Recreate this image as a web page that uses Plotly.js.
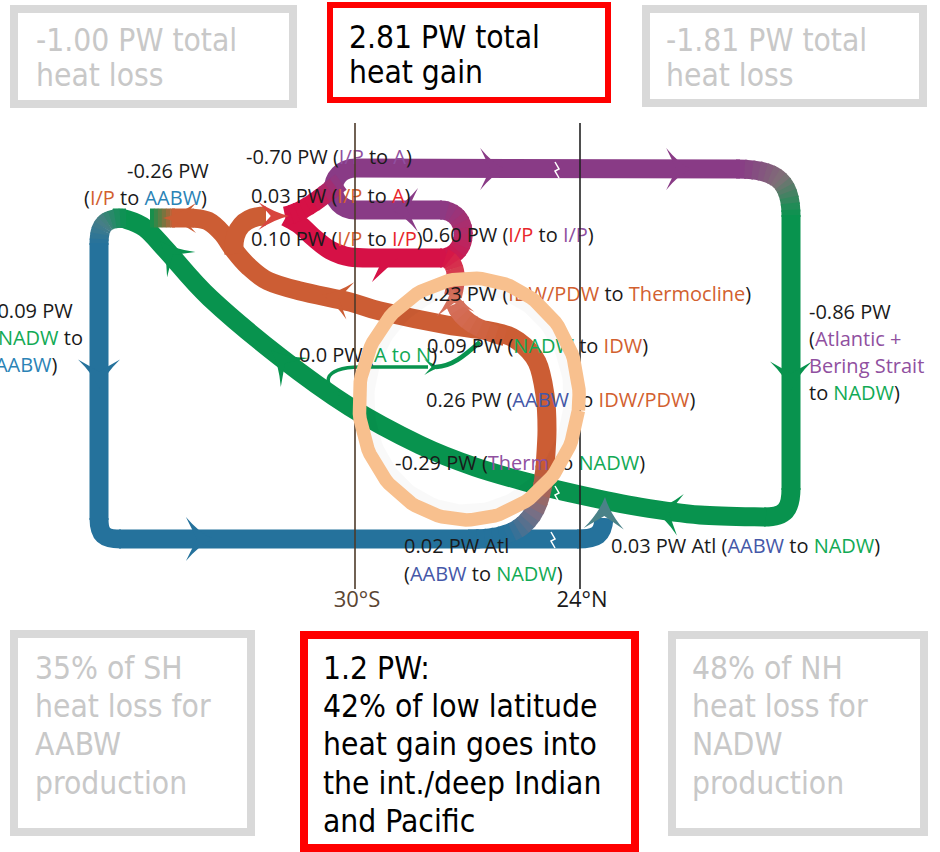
<!DOCTYPE html>
<html><head><meta charset="utf-8">
<script src="https://cdn.plot.ly/plotly-3.0.1.min.js"></script>
<style>html,body{margin:0;padding:0;background:#fff;overflow:hidden}#chart{width:940px;height:852px}</style>
</head><body><div id="chart"></div>
<script>
// ---------------- data ----------------
const topBoxLines = [["-1.00 PW total","heat loss"],["2.81 PW total","heat gain"],["-1.81 PW total","heat loss"]];
const bottomBoxLines = [["35% of SH","heat loss for","AABW","production"],
  ["1.2 PW:","42% of low latitude","heat gain goes into","the int./deep Indian","and Pacific"],
  ["48% of NH","heat loss for","NADW","production"]];
const latitudeLabels = ["30°S","24°N"];
const flowValues = ["-0.26","-0.70","0.03","0.10","0.60","0.23","-0.86","-0.09","0.0","0.09","0.26","-0.29","0.02","0.03"];

// ---------------- colours ----------------
const GREEN='#08934e', PURPLE='#893b86', RED='#d61146', ORANGE='#cc5d34', BLUE='#25729c', SALMON='#d6705c', PEACH='#f8c08e';
const tO='#d2602f', tP='#9050a0', tR='#e8262b', tG='#12aa55', tB='#2b83b6', tI='#4558a8';
function sp(s,c){return '<span style="color:'+c+'">'+s+'</span>';}

// ---------------- labels ----------------
const v = flowValues;
const labelLines = [
  v[0]+' PW',
  '('+sp('I/P',tO)+' to '+sp('AABW',tB)+')',
  v[1]+' PW ('+sp('I/P',tP)+' to '+sp('A',tP)+')',
  v[2]+' PW ('+sp('I/P',tO)+' to '+sp('A',tR)+')',
  v[3]+' PW ('+sp('I/P',tO)+' to '+sp('I/P',tR)+')',
  v[4]+' PW ('+sp('I/P',tR)+' to '+sp('I/P',tP)+')',
  v[5]+' PW ('+sp('IDW/PDW',tO)+' to '+sp('Thermocline',tO)+')',
  v[6]+' PW',
  '('+sp('Atlantic +',tP),
  sp('Bering Strait',tP),
  'to '+sp('NADW',tG)+')',
  v[7]+' PW',
  '('+sp('NADW',tG)+' to',
  '('+sp('AABW',tB)+')',
  v[8]+' PW ('+sp('A to N',tG)+')',
  v[9]+' PW ('+sp('NADW',tG)+' to '+sp('IDW',tO)+')',
  v[10]+' PW ('+sp('AABW',tI)+' to '+sp('IDW/PDW',tO)+')',
  v[11]+' PW ('+sp('Therm',tP)+' to '+sp('NADW',tG)+')',
  v[12]+' PW Atl',
  '('+sp('AABW',tI)+' to '+sp('NADW',tG)+')',
  v[13]+' PW Atl ('+sp('AABW',tI)+' to '+sp('NADW',tG)+')'
];
const labelX = [127,84,246,251,251,422,422,809,809,809,809,-9,-8,-11,299,427,426,395,404,404,611];
const labelY = [173,200,159,198,241,237,296,314,341,368,395,313,340,367,357,348,402,465,548,576,548];

// ---------------- helpers ----------------
const S = [];
const W = 19;
function f(p){return p[0].toFixed(1)+' '+p[1].toFixed(1);}
function stroke(path,color,width){S.push({type:'path',path:path,line:{color:color,width:width||W},fillcolor:'rgba(0,0,0,0)',layer:'below'});}
function lerp(a,b,t){return [a[0]+(b[0]-a[0])*t,a[1]+(b[1]-a[1])*t];}
function deCast(P,t){const a=lerp(P[0],P[1],t),b=lerp(P[1],P[2],t),c=lerp(P[2],P[3],t),d=lerp(a,b,t),e=lerp(b,c,t),g=lerp(d,e,t);return [[P[0],a,d,g],[g,e,c,P[3]]];}
function sub(P,t0,t1){const left=deCast(P,t1)[0];if(t0<=0)return left;return deCast(left,t0/t1)[1];}
function cubicPath(P){return 'M '+f(P[0])+' C '+f(P[1])+' '+f(P[2])+' '+f(P[3]);}
function hx(h){return [parseInt(h.slice(1,3),16),parseInt(h.slice(3,5),16),parseInt(h.slice(5,7),16)];}
function mix(stops,t){const n=stops.length-1;const s=Math.min(n-1e-9,Math.max(0,t*n));const i=Math.floor(s),u=s-i;const a=hx(stops[i]),b=hx(stops[i+1]);return 'rgb('+a.map((x,k)=>Math.round(x+(b[k]-x)*u)).join(',')+')';}
function gcubic(P,stops,width,n){n=n||12;for(let i=0;i<n;i++){const t0=i/n,t1=Math.min(1,(i+1)/n+0.02);stroke(cubicPath(sub(P,t0,t1)),mix(stops,(i+0.5)/n),width);}}
function smooth(pts){let d='M '+f(pts[0]);for(let i=0;i<pts.length-1;i++){const p0=pts[i-1]||pts[i],p1=pts[i],p2=pts[i+1],p3=pts[i+2]||p2;
  const c1=[p1[0]+(p2[0]-p0[0])/6,p1[1]+(p2[1]-p0[1])/6],c2=[p2[0]-(p3[0]-p1[0])/6,p2[1]-(p3[1]-p1[1])/6];d+=' C '+f(c1)+' '+f(c2)+' '+f(p2);}return d;}
function seg(a,b){return 'M '+f(a)+' L '+f(b);}
function arrow(tip,back,hw,color){const dx=tip[0]-back[0],dy=tip[1]-back[1],L=Math.hypot(dx,dy),ux=dx/L,uy=dy/L,nx=-uy,ny=ux;
  const P=(a,b)=>[back[0]+ux*a+nx*b,back[1]+uy*a+ny*b];
  const bl=P(-0.18*L,hw),br=P(-0.18*L,-hw),notch=P(0.3*L,0),cl=P(0.42*L,0.26*hw),cr=P(0.42*L,-0.26*hw);
  S.push({type:'path',path:'M '+f(tip)+' Q '+f(cl)+' '+f(bl)+' L '+f(notch)+' L '+f(br)+' Q '+f(cr)+' '+f(tip)+' Z',fillcolor:color,line:{width:0},layer:'below'});}
function poly(pts,color){S.push({type:'path',path:'M '+pts.map(f).join(' L ')+' Z',fillcolor:color,line:{width:0},layer:'below'});}

// ---------------- boxes ----------------
const boxes = [
  {x0:14,y0:9,x1:293,y1:104,c:'#d9d9d9',w:8},
  {x0:330,y0:5,x1:608,y1:100,c:'#ff0000',w:6},
  {x0:646,y0:9,x1:923,y1:103,c:'#d9d9d9',w:8},
  {x0:14,y0:634,x1:251,y1:832,c:'#d9d9d9',w:8},
  {x0:304,y0:635,x1:635,y1:848,c:'#ff0000',w:8},
  {x0:672,y0:635,x1:924,y1:832,c:'#d9d9d9',w:8}
];
boxes.forEach(b=>S.push({type:'rect',x0:b.x0,x1:b.x1,y0:b.y0,y1:b.y1,line:{color:b.c,width:b.w},fillcolor:'rgba(0,0,0,0)',layer:'below'}));

// ---------------- flows ----------------
gcubic([[736,169],[778,169],[791,182],[791,217]],[PURPLE,'#7f7077',GREEN],W,14);
stroke(seg([791,215],[791,490]),GREEN);
stroke(cubicPath([[791,488],[791,510],[785,517],[764,517]]),GREEN);
stroke(smooth([[766,517],[700,515],[640,507],[580,495],[530,483],[475,467],[420,445],[350,407],[280,357],[210,298],[168,252],[145,228],[125,219],[112,218]]),GREEN);
gcubic([[126,218],[105,218],[99,224],[99,245]],[GREEN,'#4a7f85',BLUE],W,10);
stroke(seg([99,243],[99,520]),BLUE);
stroke(cubicPath([[99,518],[99,535],[104,539],[121,539]]),BLUE);
stroke(seg([119,539],[579,539]),BLUE);
stroke(cubicPath([[577,539],[597,539],[603,535],[604,518]]),BLUE);
stroke('M 348 398 C 318 386 322 367 360 367 L 428 367',GREEN,3.5);
stroke(cubicPath([[436,367],[452,366],[463,357],[480,342]]),GREEN,4.5);
stroke(seg([354,168],[740,169]),PURPLE);
stroke(cubicPath([[356,210],[326,210],[326,168],[356,168]]),PURPLE);
stroke(seg([354,210],[442,210]),PURPLE);
stroke(smooth([[286,217],[300,225],[313,237],[330,250],[350,257],[380,258],[442,258]]),RED);
gcubic([[440,258],[471,258],[471,210],[440,210]],[RED,'#b42a66',PURPLE],W,12);
gcubic([[445,258],[458,263],[457,280],[453,296]],[RED,SALMON],18,8);
gcubic([[285,216],[305,212],[322,196],[341,182]],[RED,RED,PURPLE],W,10);
gcubic([[468,539],[515,539],[541,527],[545,466]],[BLUE,BLUE,'#7a6f84',ORANGE],W,16);
stroke(smooth([[545,468],[547,430],[545,395],[537,362],[518,341],[495,332],[447,325],[380,311],[350,302],[300,291],[268,281],[248,266],[234,250],[222,233],[208,221],[192,218]]),ORANGE);
gcubic([[150,218],[158,218],[165,218],[175,218]],[GREEN,ORANGE],W,6);
stroke(seg([172,218],[194,218]),ORANGE);
stroke(cubicPath([[234,254],[232,228],[245,216],[266,216]]),ORANGE);
gcubic([[505,337],[481,331],[461,321],[455,304]],[ORANGE,SALMON],18,8);

arrow([99,389],[99,364],21,BLUE);
arrow([213,539],[190,539],22,BLUE);
arrow([605,497],[604,524],20,'#4a8288');
arrow([505,169],[484,169],21,PURPLE);
arrow([691,169],[670,169],21,PURPLE);
arrow([791,391],[791,366],21,GREEN);
arrow([652,510],[676,514],21,GREEN);
arrow([271,350],[291,369],20,GREEN);
arrow([160,241],[178,261],19,GREEN);
arrow([163,218],[191,218],15,ORANGE);
arrow([289,216],[263,216],14,'#d8453e');
arrow([322,295],[346,300],19,ORANGE);
arrow([452,287],[455,310],19,'#d5715c');
arrow([392,210],[414,210],22,PURPLE);
arrow([442,367],[427,367],8,GREEN);
poly([[398,258],[372,282],[381,263],[379,258]],RED);

[[557,170],[557,494],[553,540]].forEach(p=>stroke('M '+(p[0]-2)+' '+(p[1]-8)+' L '+(p[0]+2)+' '+(p[1]-1)+' L '+(p[0]-2)+' '+(p[1]+1)+' L '+(p[0]+2)+' '+(p[1]+8),'#ffffff',1.5));

// ---------------- annotations (box text) ----------------
const A = [];
const boxFont = 'DejaVu Sans Condensed, Liberation Sans Narrow, sans-serif';
const topX=[34,347,664], topY=[[40,75],[37,72],[40,75]], topC=['#c8c8c8','#000000','#c8c8c8'];
topBoxLines.forEach((lines,i)=>lines.forEach((t,j)=>A.push({x:topX[i],y:topY[i][j],xref:'x',yref:'y',text:t,showarrow:false,xanchor:'left',yanchor:'middle',font:{family:boxFont,size:31.5,color:topC[i]}})));
const botX=[33,321,690], botY0=668, botDy=38.2, botC=['#c8c8c8','#000000','#c8c8c8'];
bottomBoxLines.forEach((lines,i)=>lines.forEach((t,j)=>A.push({x:botX[i],y:botY0+j*botDy,xref:'x',yref:'y',text:t,showarrow:false,xanchor:'left',yanchor:'middle',font:{family:boxFont,size:31.5,color:botC[i]}})));

// ---------------- traces ----------------
const traces = [];
traces.push({type:'scatter',mode:'text',x:labelX,y:labelY,text:labelLines,textposition:'middle right',
  textfont:{family:'Open Sans, sans-serif',size:20,color:'#1a1a1a'},hoverinfo:'skip',cliponaxis:true});
traces.push({type:'scatter',mode:'text',x:[357,582],y:[601,601],text:latitudeLabels,textposition:'middle center',
  textfont:{family:'Open Sans, sans-serif',size:22,color:['#5b4532','#1a1a1a']},hoverinfo:'skip'});
traces.push({type:'scatter',mode:'lines',x:[355,355],y:[123,589],line:{color:'#4d3a2a',width:1.6},hoverinfo:'skip'});
traces.push({type:'scatter',mode:'lines',x:[580,580],y:[123,589],line:{color:'#222222',width:1.6},hoverinfo:'skip'});
function ellipse(cx,cy,rx,ry,rotDeg){const th=rotDeg*Math.PI/180,xs=[],ys=[];for(let k=0;k<=144;k++){const t=k/144*2*Math.PI;
  xs.push(cx+rx*Math.cos(t)*Math.cos(th)-ry*Math.sin(t)*Math.sin(th));ys.push(cy+rx*Math.cos(t)*Math.sin(th)+ry*Math.sin(t)*Math.cos(th));}return [xs,ys];}
const sh = ellipse(469,399,99,110,6);
traces.push({type:'scatter',mode:'lines',x:sh[0],y:sh[1],line:{color:'rgba(0,0,0,0.025)',width:9},hoverinfo:'skip'});
const rg = ellipse(469,399,110,121,6);
traces.push({type:'scatter',mode:'lines',x:rg[0],y:rg[1],line:{color:PEACH,width:13.5},hoverinfo:'skip'});

const layout = {width:940,height:852,margin:{l:0,r:0,t:0,b:0,pad:0},paper_bgcolor:'#ffffff',plot_bgcolor:'#ffffff',showlegend:false,
  xaxis:{range:[0,940],autorange:false,visible:false,fixedrange:true},
  yaxis:{range:[852,0],autorange:false,visible:false,fixedrange:true},
  shapes:S,annotations:A};
Plotly.newPlot('chart',traces,layout,{staticPlot:true,displayModeBar:false});
</script></body></html>
